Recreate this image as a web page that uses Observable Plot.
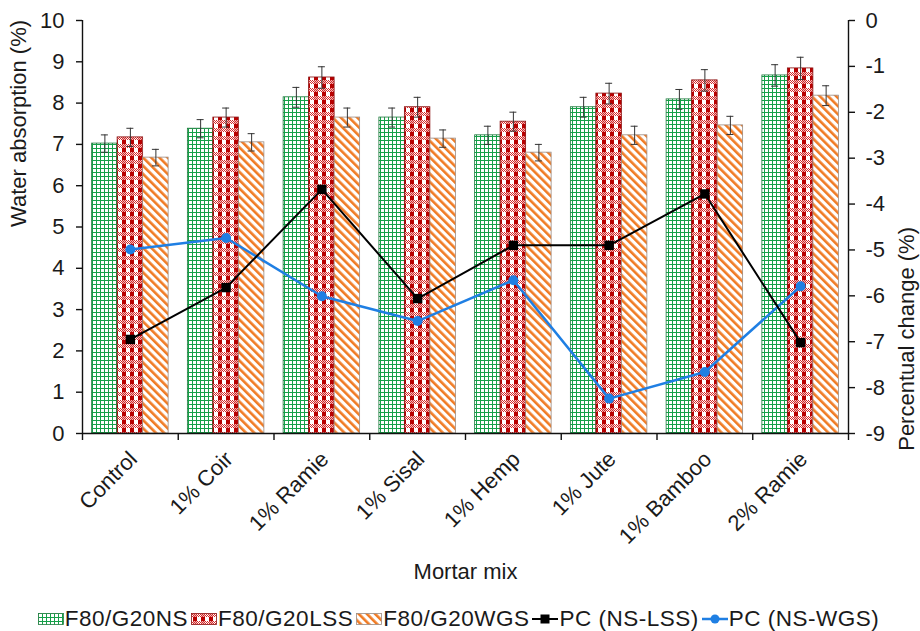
<!DOCTYPE html>
<html><head><meta charset="utf-8">
<script src="https://cdn.jsdelivr.net/npm/d3@7"></script>
<script src="https://cdn.jsdelivr.net/npm/@observablehq/plot@0.6"></script>
<style>
body{margin:0;background:#fff;font-family:"Liberation Sans",Arial,sans-serif;}
#legend{display:flex;justify-content:center;align-items:center;height:24px;padding-top:7px;font-size:22.5px;letter-spacing:0.5px;color:#1a1a1a;white-space:nowrap;}
.item{display:flex;align-items:center;margin-right:3px}
.item svg{margin-right:1px}
</style></head><body>
<svg width="0" height="0" style="position:absolute" id="defsvg">
<defs>
<pattern id="pNS" patternUnits="userSpaceOnUse" width="4" height="4">
 <rect width="4" height="4" fill="#fff"/>
 <rect x="0" y="0" width="4" height="1" fill="#15a048"/>
 <rect x="0" y="0" width="1" height="4" fill="#15a048"/>
</pattern>
<pattern id="pLSS" patternUnits="userSpaceOnUse" width="8" height="8"></pattern>
<pattern id="pWGS" patternUnits="userSpaceOnUse" width="5.8" height="5.8" patternTransform="rotate(-45)">
 <rect width="5.8" height="5.8" fill="#fff"/>
 <rect x="0" y="0" width="2.6" height="5.8" fill="#f07b24"/>
</pattern>
</defs></svg>
<div id="chart"></div>
<div id="legend"></div>
<script>
const categories = ["Control","1% Coir","1% Ramie","1% Sisal","1% Hemp","1% Jute","1% Bamboo","2% Ramie"];
const ns  = [7.02,7.38,8.14,7.65,7.22,7.90,8.09,8.67];
const lss = [7.17,7.65,8.62,7.90,7.55,8.23,8.55,8.84];
const wgs = [6.68,7.05,7.65,7.14,6.80,7.22,7.46,8.18];
const nsErr  = [0.21,0.22,0.24,0.23,0.22,0.24,0.24,0.26];
const lssErr = [0.22,0.23,0.26,0.24,0.23,0.25,0.26,0.27];
const wgsErr = [0.20,0.21,0.23,0.21,0.20,0.22,0.22,0.24];
const pcLss = [-6.95,-5.82,-3.68,-6.06,-4.90,-4.90,-3.78,-7.02];
const pcWgs = [-4.99,-4.74,-6.01,-6.55,-5.66,-8.24,-7.66,-5.79];
const leftTicks = [0,1,2,3,4,5,6,7,8,9,10];
const rightTicks = [0,-1,-2,-3,-4,-5,-6,-7,-8,-9];
const seriesNames = ["F80/G20NS","F80/G20LSS","F80/G20WGS","PC (NS-LSS)","PC (NS-WGS)"];

// red gingham pattern
const pl = d3.select("#pLSS");
pl.append("rect").attr("width",8).attr("height",8).attr("fill","#fff");
for (let y=0;y<4;y++) for (let x=0;x<8;x++) if ((x+y)%2===0) pl.append("rect").attr("x",x).attr("y",y).attr("width",1).attr("height",1).attr("fill","#d42a2a");
pl.append("rect").attr("x",2).attr("y",0).attr("width",4).attr("height",4).attr("fill","#d42a2a").attr("opacity",0.35);
pl.append("rect").attr("x",2).attr("y",4).attr("width",4).attr("height",4).attr("fill","#b80000");

const W = 920, H = 600, mL = 82, mR = 72, mT = 20, mB = 167;
const FS = 22;
const band = (W - mL - mR) / categories.length;
const barW = 25.5;
const groupL = (band - 3 * barW) / 2;
const toLeft = d3.scaleLinear().domain([-9, 0]).range([0, 10]);

const rows = categories.map((c, i) => ({cat: c, ns: ns[i], lss: lss[i], wgs: wgs[i],
  nsErr: nsErr[i], lssErr: lssErr[i], wgsErr: wgsErr[i], pcLss: pcLss[i], pcWgs: pcWgs[i]}));

const series = [
  {key: "ns", err: "nsErr", fill: "url(#pNS)", stroke: "#1f7a3e"},
  {key: "lss", err: "lssErr", fill: "url(#pLSS)", stroke: "#8a1010"},
  {key: "wgs", err: "wgsErr", fill: "url(#pWGS)", stroke: "#9a8a80"}
];

const marks = [];
series.forEach((s, j) => {
  const insetLeft = groupL + j * barW;
  const insetRight = band - insetLeft - barW;
  const cx = insetLeft + barW / 2;
  marks.push(Plot.barY(rows, {x: "cat", y: s.key, fill: s.fill, stroke: s.stroke, strokeWidth: 0.8, insetLeft, insetRight}));
  marks.push(Plot.ruleX(rows, {x: "cat", y1: d => d[s.key] - d[s.err], y2: d => d[s.key] + d[s.err], dx: cx - band / 2, stroke: "#333", strokeWidth: 1}));
  marks.push(Plot.tickY(rows, {x: "cat", y: d => d[s.key] + d[s.err], insetLeft: cx - 3.5, insetRight: band - cx - 3.5, stroke: "#333", strokeWidth: 1}));
  marks.push(Plot.tickY(rows, {x: "cat", y: d => d[s.key] - d[s.err], insetLeft: cx - 3.5, insetRight: band - cx - 3.5, stroke: "#333", strokeWidth: 1}));
});

marks.push(
  Plot.line(rows, {x: "cat", y: d => toLeft(d.pcWgs), stroke: "#1f7fe3", strokeWidth: 2.5}),
  Plot.dot(rows, {x: "cat", y: d => toLeft(d.pcWgs), r: 5, fill: "#1f7fe3", symbol: "circle"}),
  Plot.line(rows, {x: "cat", y: d => toLeft(d.pcLss), stroke: "#000", strokeWidth: 2}),
  Plot.dot(rows, {x: "cat", y: d => toLeft(d.pcLss), r: 5.3, fill: "#000", symbol: "square"}),
  Plot.ruleY([0], {stroke: "#111", strokeWidth: 1.4}),
  Plot.ruleX([categories[0]], {x: d => d, dx: -band / 2, stroke: "#111", strokeWidth: 1.4}),
  Plot.ruleX([categories[categories.length - 1]], {x: d => d, dx: band / 2, stroke: "#111", strokeWidth: 1.4}),
  Plot.axisY({ticks: leftTicks, tickSize: 6, tickPadding: 12, label: null, stroke: "#111", strokeWidth: 1.4, fontSize: FS}),
  Plot.axisY({anchor: "right", ticks: rightTicks.map(toLeft), tickFormat: v => String(Math.round(toLeft.invert(v))), tickSize: 6, tickPadding: 11, label: null, stroke: "#111", strokeWidth: 1.4, fontSize: FS}),
  Plot.axisX({tickSize: 0, tickRotate: -45, tickPadding: 22, dx: 3, label: null, fontSize: FS}),
  Plot.axisX({tickSize: 7, tickFormat: () => "", dx: -band / 2, label: null, stroke: "#111", strokeWidth: 1.4}),
  Plot.axisX({ticks: [categories[categories.length - 1]], tickSize: 7, tickFormat: () => "", dx: band / 2, label: null, stroke: "#111", strokeWidth: 1.4}),
  Plot.text(["Water absorption (%)"], {text: d => d, frameAnchor: "left", dx: -64, rotate: -90, fontSize: FS}),
  Plot.text(["Percentual change (%)"], {text: d => d, frameAnchor: "right", dx: 58, rotate: -90, fontSize: FS}),
  Plot.text(["Mortar mix"], {text: d => d, frameAnchor: "bottom", dy: 145, fontSize: FS})
);

const chart = Plot.plot({
  width: W, height: H, marginLeft: mL, marginRight: mR, marginTop: mT, marginBottom: mB,
  style: {fontFamily: "'Liberation Sans', Arial, sans-serif", fontSize: "22px", color: "#1a1a1a", background: "#fff", overflow: "visible"},
  x: {type: "band", domain: categories, padding: 0, round: false, axis: null},
  y: {domain: [0, 10], axis: null},
  marks
});
document.getElementById("chart").appendChild(chart);

// legend
const lg = d3.select("#legend");
const swatch = [
  {fill: "url(#pNS)", stroke: "#1f7a3e"},
  {fill: "url(#pLSS)", stroke: "#8a1010"},
  {fill: "url(#pWGS)", stroke: "#9a8a80"}
];
seriesNames.forEach((name, i) => {
  const it = lg.append("div").attr("class", "item");
  const sv = it.append("svg").attr("width", 26).attr("height", 12);
  if (i < 3) {
    sv.append("rect").attr("x", 0.5).attr("y", 0.5).attr("width", 25).attr("height", 11)
      .attr("fill", swatch[i].fill).attr("stroke", swatch[i].stroke).attr("stroke-width", 0.8);
  } else {
    const col = i === 3 ? "#000" : "#1f7fe3";
    sv.append("line").attr("x1", 0).attr("x2", 26).attr("y1", 6).attr("y2", 6).attr("stroke", col).attr("stroke-width", i === 3 ? 2 : 2.5);
    if (i === 3) sv.append("rect").attr("x", 8.5).attr("y", 1.5).attr("width", 9).attr("height", 9).attr("fill", col);
    else sv.append("circle").attr("cx", 13).attr("cy", 6).attr("r", 4.5).attr("fill", col);
  }
  it.append("span").text(name);
});
</script>
</body></html>
